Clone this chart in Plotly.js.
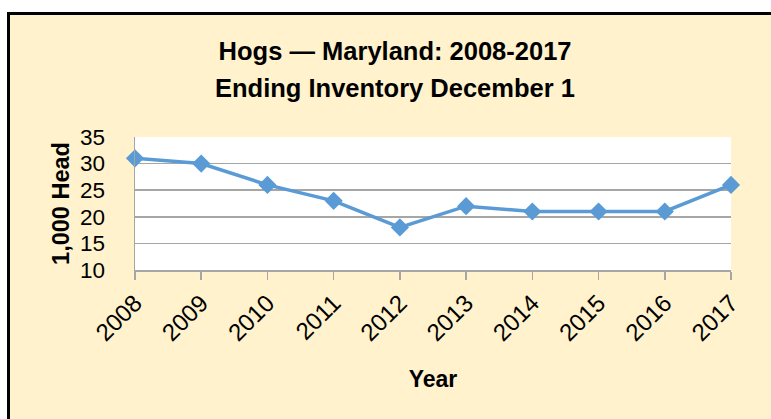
<!DOCTYPE html>
<html>
<head>
<meta charset="utf-8">
<script src="https://cdn.plot.ly/plotly-3.0.1.min.js"></script>
<style>
  html, body { margin: 0; padding: 0; background: #ffffff; width: 771px; height: 419px; overflow: hidden; }
  #frame { position: absolute; left: 7px; top: 12px; width: 761px; height: 404px;
           border-left: 3px solid #000; border-top: 3px solid #000; background: #FFF2CC; }
  #chart { width: 761px; height: 404px; }
</style>
</head>
<body>
<div id="frame"><div id="chart"></div></div>
<script>
const years = ['2008','2009','2010','2011','2012','2013','2014','2015','2016','2017'];
const headThousands = [31, 30, 26, 23, 18, 22, 21, 21, 21, 26];
const yTickValues = [10, 15, 20, 25, 30, 35];
const titleLine1 = 'Hogs \u2014 Maryland: 2008-2017';
const titleLine2 = 'Ending Inventory December 1';

const FONT = '"Liberation Sans", Arial, sans-serif';
const GRID = '#A6A6A6';

const trace = {
  x: years,
  y: headThousands,
  type: 'scatter',
  mode: 'lines+markers',
  line: { color: '#5B9BD5', width: 3.5 },
  marker: { symbol: 'diamond', size: 14, color: '#5B9BD5' },
  cliponaxis: false,
  hoverinfo: 'x+y'
};

const layout = {
  width: 761,
  height: 404,
  margin: { l: 125, r: 40, t: 122, b: 149 },
  paper_bgcolor: '#FFF2CC',
  plot_bgcolor: '#FFFFFF',
  showlegend: false,
  font: { family: FONT, color: '#000' },
  title: {
    text: '<b>' + titleLine1 + '</b>',
    font: { family: FONT, size: 25.5, color: '#000' },
    xref: 'container', yref: 'container',
    x: 0.506, y: 0.9097, xanchor: 'center', yanchor: 'middle'
  },
  annotations: [{
    text: '<b>' + titleLine2 + '</b>',
    xref: 'paper', yref: 'paper',
    x: 0.436, y: 1.372, xanchor: 'center', yanchor: 'middle',
    showarrow: false,
    font: { family: FONT, size: 25.5, color: '#000' }
  }],
  xaxis: {
    type: 'category',
    range: [0, years.length - 1],
    showgrid: false,
    showline: true, linecolor: GRID, linewidth: 1.5,
    ticks: 'outside', ticklen: 8, tickcolor: GRID, tickwidth: 1.5,
    tickangle: -45,
    tickfont: { family: FONT, size: 24, color: '#000' },
    title: { text: '<b>Year</b>', font: { family: FONT, size: 23, color: '#000' }, standoff: 26 },
    automargin: false,
    fixedrange: true
  },
  yaxis: {
    range: [10, 35],
    tickvals: yTickValues,
    showgrid: true, gridcolor: GRID, gridwidth: 1.5,
    showline: true, linecolor: GRID, linewidth: 1.5,
    ticks: '',
    ticklabelstandoff: 24,
    tickfont: { family: FONT, size: 22.5, color: '#000' },
    title: { text: '<b>1,000 Head</b>', font: { family: FONT, size: 23.5, color: '#000' }, standoff: 3 },
    zeroline: false,
    automargin: false,
    fixedrange: true
  }
};

Plotly.newPlot('chart', [trace], layout, { displayModeBar: false, staticPlot: true });
</script>
</body>
</html>
